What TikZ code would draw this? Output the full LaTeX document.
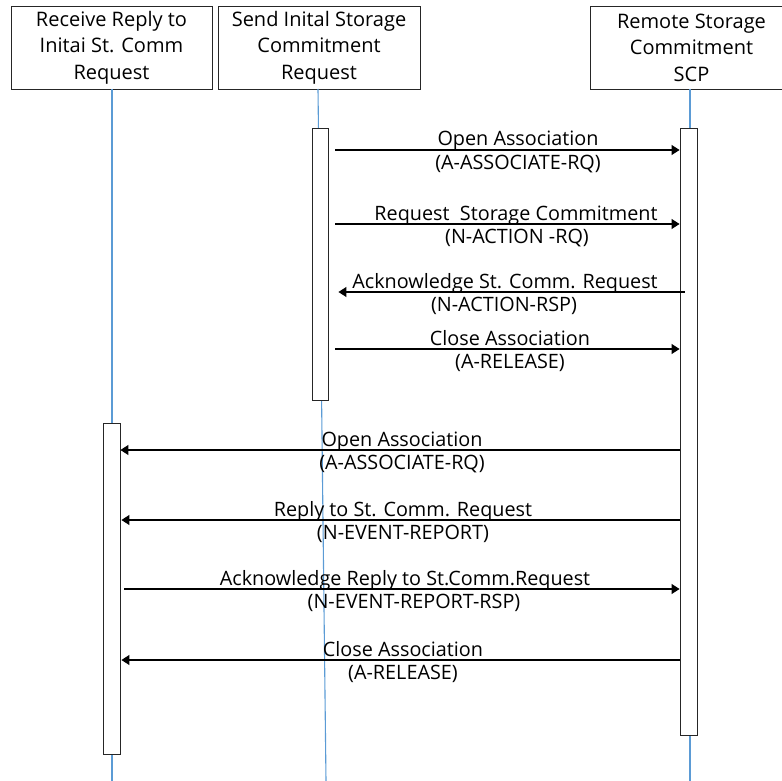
\documentclass[tikz,border=0pt]{standalone}
\usepackage{fontspec}
\setmainfont{Open Sans}
\usetikzlibrary{arrows.meta}
\definecolor{lifeblue}{RGB}{91,155,213}
\begin{document}
\begin{tikzpicture}[x=1pt,y=-1pt,
  actor/.style={draw=black!85, line width=0.9pt, fill=white, inner sep=0pt,
    font=\fontsize{20}{26.5}\selectfont, align=center, minimum height=83pt},
  life/.style={draw=lifeblue, line width=1.1pt},
  act/.style={draw=black!85, line width=0.9pt, fill=white, inner sep=0pt},
  msg/.style={draw=black, line width=1.1pt, -{Triangle[length=8pt,width=10pt]}},
  lbl/.style={font=\fontsize{19.8}{24}\selectfont, anchor=base, inner sep=0pt}
]
\useasboundingbox (0,0) rectangle (782,781);
% actors
\node[actor, minimum width=201pt] (a1) at (111.5,47.5) {Receive Reply to\\Initai St. Comm\\Request};
\node[actor, minimum width=202pt] (a2) at (319,47.5) {Send Inital Storage\\Commitment\\Request};
\node[actor, minimum width=203pt] (a3) at (691.5,47.5) {Remote Storage\\Commitment\\SCP};
% lifeline ends
\coordinate (s1) at (112,89);
\coordinate (e1) at (112,781);
\coordinate (s2) at (318,89);
\coordinate (e2) at (326,781);
\coordinate (s3) at (690,89);
\coordinate (e3) at (690,781);
\draw[life] (s1) -- (e1);
\draw[life] (s2) -- (e2);
\draw[life] (s3) -- (e3);
% activations
\node[act, minimum width=16pt, minimum height=272pt] (b2) at (320,264) {};
\node[act, minimum width=17pt, minimum height=607pt] (b3) at (688.5,431.5) {};
\node[act, minimum width=17pt, minimum height=331pt] (b1) at (111.5,588.5) {};
% messages, upper
\draw[msg, shorten <=7pt] (b2.east |- 0,150) -- (b3.west |- 0,150);
\node[lbl] (m1a) at (518,146) {Open Association};
\node[lbl] (m1b) at (518,169) {(A-ASSOCIATE-RQ)};
\draw[msg, shorten <=7pt] (b2.east |- 0,224) -- (b3.west |- 0,224);
\node[lbl] (m2a) at (516,220) {Request~ Storage Commitment};
\node[lbl] (m2b) at (517,243) {(N-ACTION -RQ)};
\draw[msg, shorten <=-5pt, shorten >=10pt] (b3.west |- 0,292) -- (b2.east |- 0,292);
\node[lbl] (m3a) at (505,288) {Acknowledge St. Comm. Request};
\node[lbl] (m3b) at (504,311) {(N-ACTION-RSP)};
\draw[msg, shorten <=7pt] (b2.east |- 0,349) -- (b3.west |- 0,349);
\node[lbl] (m4a) at (510,345) {Close Association};
\node[lbl] (m4b) at (510,368) {(A-RELEASE)};
% messages, lower
\draw[msg] (b3.west |- 0,450) -- (b1.east |- 0,450);
\node[lbl] (m5a) at (402,446) {Open Association};
\node[lbl] (m5b) at (402,469) {(A-ASSOCIATE-RQ)};
\draw[msg, shorten >=1pt] (b3.west |- 0,520) -- (b1.east |- 0,520);
\node[lbl] (m6a) at (403,516) {Reply to St. Comm. Request};
\node[lbl] (m6b) at (403,539) {(N-EVENT-REPORT)};
\draw[msg, shorten <=4pt] (b1.east |- 0,589) -- (b3.west |- 0,589);
\node[lbl] (m7a) at (405,585) {Acknowledge Reply to St.Comm.Request};
\node[lbl] (m7b) at (414,608) {(N-EVENT-REPORT-RSP)};
\draw[msg, shorten >=1pt] (b3.west |- 0,660) -- (b1.east |- 0,660);
\node[lbl] (m8a) at (403,656) {Close Association};
\node[lbl] (m8b) at (403,679) {(A-RELEASE)};
\end{tikzpicture}
\end{document}
